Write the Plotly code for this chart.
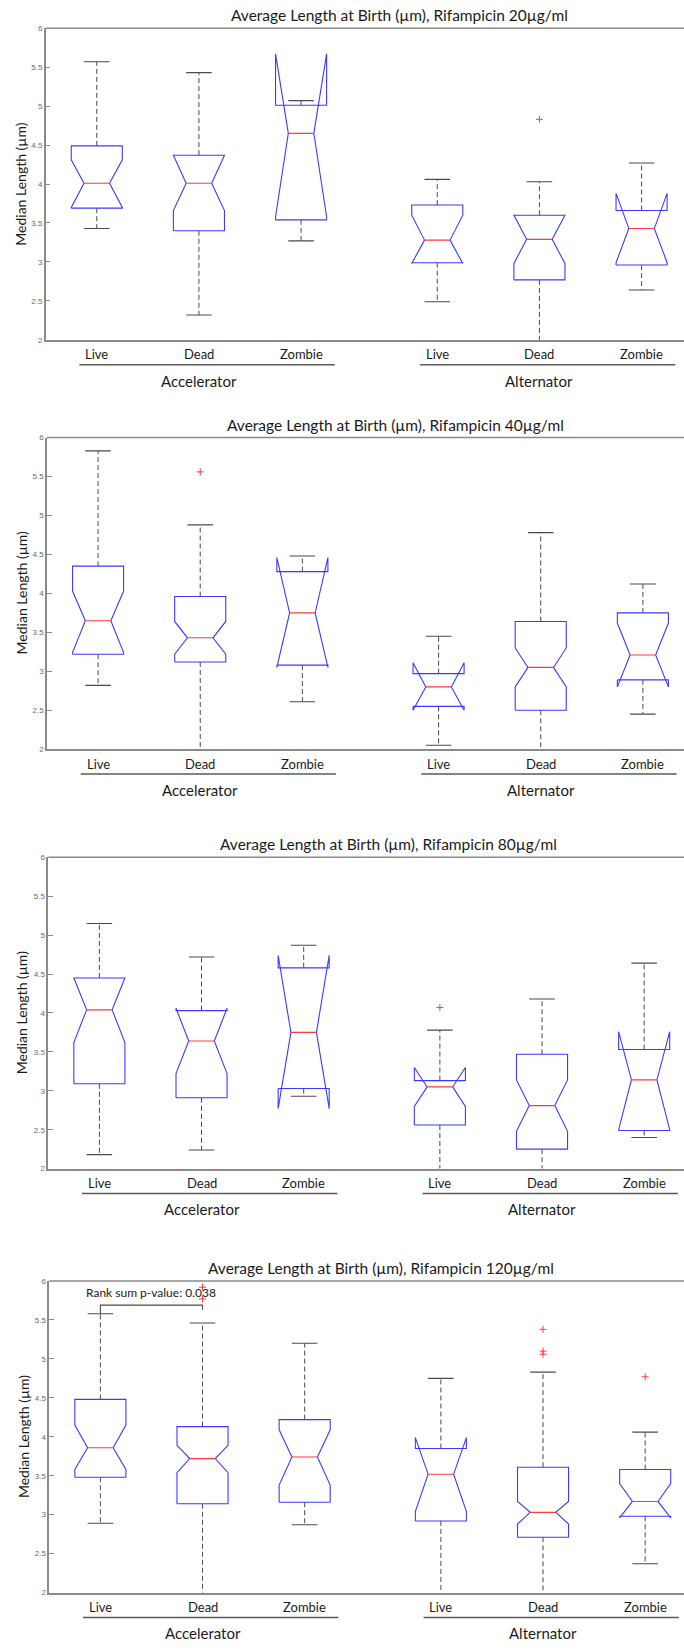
import plotly.graph_objects as go

W, H = 684, 1650

doses = ["20", "40", "80", "120"]
strains = ["Accelerator", "Alternator"]
states = ["Live", "Dead", "Zombie"]

# Box statistics per dose; each row: Accelerator Live/Dead/Zombie, Alternator Live/Dead/Zombie
whisker_hi = [
    [5.57, 5.43, 5.07, 4.06, 4.03, 4.27],
    [5.83, 4.88, 4.48, 3.45, 4.78, 4.12],
    [5.15, 4.72, 4.87, 3.78, 4.18, 4.64],
    [5.58, 5.46, 5.20, 4.75, 4.83, 4.06],
]
q3 = [
    [4.49, 4.37, 5.01, 3.73, 3.60, 3.66],
    [4.35, 3.96, 4.28, 2.97, 3.64, 3.75],
    [4.45, 4.03, 4.58, 3.13, 3.47, 3.53],
    [4.48, 4.13, 4.22, 3.85, 3.61, 3.58],
]
notch_hi = [
    [4.31, 4.37, 5.67, 3.60, 3.60, 3.88],
    [4.03, 3.64, 4.46, 3.11, 3.30, 3.62],
    [4.45, 4.06, 4.74, 3.30, 3.14, 3.76],
    [4.15, 3.89, 4.09, 3.99, 3.17, 3.40],
]
median = [
    [4.01, 4.01, 4.65, 3.28, 3.29, 3.43],
    [3.65, 3.43, 3.75, 2.80, 3.05, 3.21],
    [4.04, 3.64, 3.75, 3.05, 2.81, 3.14],
    [3.86, 3.72, 3.74, 3.52, 3.03, 3.17],
]
notch_lo = [
    [3.70, 3.66, 3.58, 2.98, 2.98, 2.99],
    [3.24, 3.22, 3.05, 2.50, 2.80, 2.80],
    [3.62, 3.22, 2.77, 2.80, 2.48, 2.50],
    [3.58, 3.54, 3.38, 3.04, 2.88, 2.96],
]
q1 = [
    [3.69, 3.40, 3.54, 2.99, 2.77, 2.96],
    [3.22, 3.12, 3.08, 2.55, 2.50, 2.89],
    [3.09, 2.91, 3.03, 2.56, 2.25, 2.49],
    [3.48, 3.14, 3.16, 2.92, 2.71, 2.98],
]
whisker_lo = [
    [3.43, 2.32, 3.27, 2.49, 1.95, 2.64],
    [2.82, 1.95, 2.61, 2.05, 1.95, 2.45],
    [2.18, 2.24, 2.93, 1.95, 1.95, 2.40],
    [2.89, 1.95, 2.87, 1.95, 1.95, 2.37],
]
outliers = [
    [[], [], [], [], [4.83], []],
    [[], [5.56], [], [], [], []],
    [[], [], [], [4.07], [], []],
    [[], [5.92, 5.77], [], [], [5.38, 5.10, 5.06], [4.77]],
]

# Rank-sum comparison shown on the 120 µg/ml panel (Accelerator Live vs Dead)
ranksum_p = "0.038"
bracket_y = 5.69

y_ticks = [2, 2.5, 3, 3.5, 4, 4.5, 5, 5.5, 6]

# ---- geometry (pixels) ----
panel_top = [24.3, 436.0, 858.0, 1284.0]
panel_bottom = [337.7, 749.3, 1171.0, 1597.3]
panel_left = [45.7, 47.0, 48.3, 49.3]
title_cx = [399, 395, 389, 381]
px_per_unit = 102.15
group_gap = 1 / 3
half_w = 0.25

positions = [1, 2, 3, 4 + group_gap, 5 + group_gap, 6 + group_gap]

FONT = "Lato"
BOX_C = "#3a3aff"
MED_C = "#ff3a3a"
WH_C = "#4a4a4a"
AX_C = "#8a8a8a"


def py(px):
    return 1 - px / H


fig = go.Figure()
annotations = []
shapes = []

for p in range(4):
    xa = "x" if p == 0 else f"x{p + 1}"
    ya = "y" if p == 0 else f"y{p + 1}"

    box_x, box_y = [], []
    med_x, med_y = [], []
    wh_x, wh_y = [], []
    cap_x, cap_y = [], []
    out_x, out_y = [], []

    for b, x in enumerate(positions):
        lo1, nl, m, nh, hi3 = q1[p][b], notch_lo[p][b], median[p][b], notch_hi[p][b], q3[p][b]
        w, w2 = half_w, half_w / 2
        box_x += [x - w, x - w, x - w2, x - w, x - w, x + w, x + w, x + w2, x + w, x + w, x - w, None]
        box_y += [lo1, nl, m, nh, hi3, hi3, nh, m, nl, lo1, lo1, None]
        med_x += [x - w2, x + w2, None]
        med_y += [m, m, None]
        wh_x += [x, x, None, x, x, None]
        wh_y += [hi3, whisker_hi[p][b], None, lo1, whisker_lo[p][b], None]
        cap_x += [x - w2, x + w2, None, x - w2, x + w2, None]
        cap_y += [whisker_hi[p][b], whisker_hi[p][b], None, whisker_lo[p][b], whisker_lo[p][b], None]
        for v in outliers[p][b]:
            out_x.append(x)
            out_y.append(v)

    fig.add_trace(go.Scatter(x=wh_x, y=wh_y, mode="lines", xaxis=xa, yaxis=ya,
                             line=dict(color=WH_C, width=1, dash="5px,3px"), hoverinfo="skip"))
    fig.add_trace(go.Scatter(x=cap_x, y=cap_y, mode="lines", xaxis=xa, yaxis=ya,
                             line=dict(color=WH_C, width=1.1), hoverinfo="skip"))
    fig.add_trace(go.Scatter(x=box_x, y=box_y, mode="lines", xaxis=xa, yaxis=ya,
                             line=dict(color=BOX_C, width=1.1), hoverinfo="skip"))
    fig.add_trace(go.Scatter(x=med_x, y=med_y, mode="lines", xaxis=xa, yaxis=ya,
                             line=dict(color=MED_C, width=1.1), hoverinfo="skip"))
    if out_x:
        fig.add_trace(go.Scatter(x=out_x, y=out_y, mode="markers", xaxis=xa, yaxis=ya,
                                 marker=dict(symbol="cross-thin", size=5,
                                             line=dict(color=MED_C, width=1)),
                                 hoverinfo="skip"))

    left = panel_left[p]
    x_end = 0.5 + (W - left) / px_per_unit
    fig.layout[("xaxis" if p == 0 else f"xaxis{p + 1}")] = dict(
        domain=[left / W, 1], range=[0.5, x_end], anchor=ya,
        showgrid=False, zeroline=False, showticklabels=False, ticks="",
        showline=True, linecolor=AX_C, linewidth=1.5, fixedrange=True,
    )
    fig.layout[("yaxis" if p == 0 else f"yaxis{p + 1}")] = dict(
        domain=[py(panel_bottom[p]), py(panel_top[p])], range=[2, 6], anchor=xa,
        tickvals=y_ticks, ticks="inside", ticklen=5, tickcolor=AX_C, tickwidth=1,
        tickfont=dict(family="Liberation Sans", size=8, color="#6a6a6a"),
        showgrid=False, zeroline=False, showline=True, linecolor=AX_C, linewidth=1.5,
        fixedrange=True,
    )

    # top border of the plot box
    shapes.append(dict(type="line", xref="paper", yref="paper",
                       x0=left / W, x1=1, y0=py(panel_top[p]), y1=py(panel_top[p]),
                       line=dict(color=AX_C, width=1.5)))

    # title
    annotations.append(dict(
        text=f"Average Length at Birth (µm), Rifampicin {doses[p]}µg/ml",
        xref="paper", yref="paper", x=title_cx[p] / W, y=py(panel_top[p] - 13),
        showarrow=False, xanchor="center", yanchor="middle",
        font=dict(family=FONT, size=15.5, color="#1a1a1a")))

    # y-axis title
    annotations.append(dict(
        text="Median Length (µm)", textangle=-90,
        xref="paper", yref="paper", x=(left - 26) / W,
        y=py((panel_top[p] + panel_bottom[p]) / 2),
        showarrow=False, xanchor="center", yanchor="middle",
        font=dict(family=FONT, size=14, color="#1a1a1a")))

    # category and group labels
    for g in range(2):
        grp = positions[3 * g:3 * g + 3]
        for k, s in enumerate(states):
            annotations.append(dict(
                text=s, xref=xa, yref="paper", x=grp[k],
                y=py(panel_bottom[p] + 14.5), showarrow=False,
                xanchor="center", yanchor="middle",
                font=dict(family=FONT, size=13, color="#1a1a1a")))
        shapes.append(dict(type="line", xref=xa, yref="paper",
                           x0=grp[0] - 0.17, x1=grp[2] + 0.33,
                           y0=py(panel_bottom[p] + 25), y1=py(panel_bottom[p] + 25),
                           line=dict(color="#5a5a5a", width=1.5)))
        annotations.append(dict(
            text=strains[g], xref=xa, yref="paper", x=grp[1],
            y=py(panel_bottom[p] + 41), showarrow=False,
            xanchor="center", yanchor="middle",
            font=dict(family=FONT, size=15, color="#1a1a1a")))

# significance bracket between Accelerator Live and Dead at 120 µg/ml
p = 3
x_a, x_b = positions[0], positions[1]
fig.add_trace(go.Scatter(
    x=[x_a, x_a, x_b, x_b], y=[whisker_hi[p][0], bracket_y, bracket_y, whisker_hi[p][1] + 0.17],
    mode="lines", xaxis="x4", yaxis="y4",
    line=dict(color="#4a4a4a", width=1.1), hoverinfo="skip"))
annotations.append(dict(
    text=f"Rank sum p-value: {ranksum_p}", xref="x4", yref="y4",
    x=(x_a + x_b) / 2, y=5.855, showarrow=False, xanchor="center", yanchor="middle",
    font=dict(family=FONT, size=12, color="#1a1a1a")))

fig.update_layout(
    width=W, height=H, margin=dict(l=0, r=0, t=0, b=0),
    showlegend=False, plot_bgcolor="white", paper_bgcolor="white",
    annotations=annotations, shapes=shapes,
)

fig.write_html("out.html")
